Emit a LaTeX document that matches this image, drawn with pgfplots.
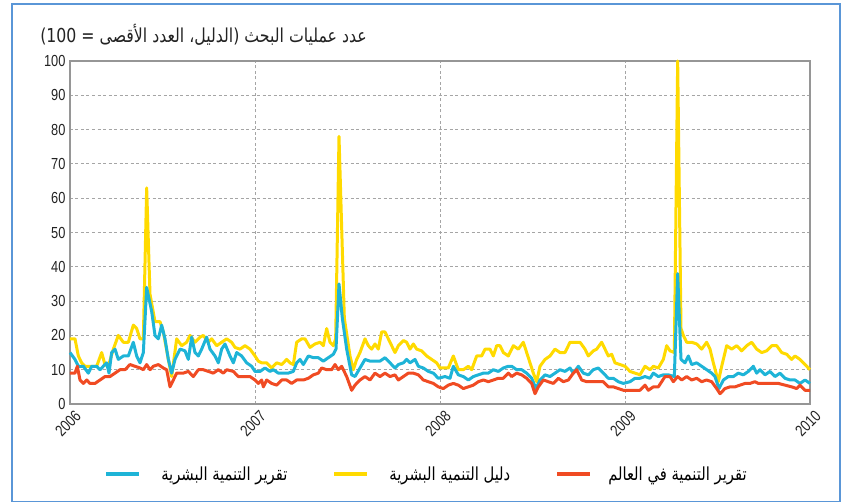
\documentclass[border=0pt]{standalone}
\usepackage{pgfplots}
\pgfplotsset{compat=1.18}
\usepackage{fontspec}
\setmainfont{Liberation Sans}[FakeStretch=0.8]
\newfontfamily\arabicfont[Script=Arabic,FakeStretch=0.82]{DejaVu Sans}
\TeXXeTstate=1
\definecolor{cyellow}{RGB}{255,218,0}
\definecolor{cblue}{RGB}{30,180,215}
\definecolor{cred}{RGB}{240,75,35}
\definecolor{frameblue}{RGB}{90,150,215}
\definecolor{gridgray}{RGB}{165,165,165}
\definecolor{axgray}{RGB}{150,150,150}
\definecolor{txt}{RGB}{35,35,35}

\pgfplotstableread{
x y
0 19
15 19
25 14
35 12
45 11
60 11
80 11
95 15
105 11.5
115 11
130 16
145 20
160 18
175 18
190 23
200 22
210 19
220 19
230 63
240 32
255 24
270 24
280 21
295 13
305 8
320 19
335 17
350 18
360 20
375 18
390 19.5
400 20
415 18
425 19
440 17
455 18
470 19
485 18
495 16.5
510 16
525 17
540 16
555 14
565 12.5
575 12
590 12
605 10.5
620 12
635 11.5
650 13
660 12
670 11.5
680 18
695 19
705 19
720 16.5
735 17.5
750 18
760 17
770 22
780 18
790 17
797 19
807 78
823 25
840 14
850 10
860 13
870 15
885 19
895 17
905 16
915 17.5
925 16
935 21
945 21
955 19
965 17
975 15
985 17
1000 18.5
1010 18
1020 16
1030 17.5
1040 16
1055 15.5
1070 14
1085 13
1100 12
1110 10.5
1120 10.5
1135 10.5
1150 14
1165 10
1180 10
1195 11
1205 10
1220 14
1235 14
1245 16
1260 16
1270 14
1280 17
1290 17
1300 15
1315 14
1330 17
1345 16
1360 18
1370 15
1380 12
1390 9
1400 6.5
1410 11
1425 13
1440 14
1455 16
1470 15
1485 15
1500 18
1515 18
1530 18
1545 16
1555 14
1570 15.5
1580 16
1595 18
1605 16
1615 14
1625 14.5
1635 12
1650 11.5
1665 11
1680 9.5
1695 9
1710 8.5
1725 11
1740 10
1750 11
1765 10.5
1780 13
1790 17
1800 15.5
1813 15
1823 100
1833 22
1840 20
1850 18
1865 18
1880 17.5
1895 16
1910 18
1920 16
1930 12
1945 6.5
1955 11
1970 17
1985 16
2000 17
2015 15.5
2030 17
2045 18
2060 16
2075 15
2090 15.5
2105 17
2120 17
2135 15
2150 14.5
2165 13
2175 14
2190 13
2205 11.5
2220 10
}\hdi

\pgfplotstableread{
x y
0 15
15 13
25 11
40 11
55 9
65 11
80 11
90 10
100 11
110 12
117 9
125 15
135 16
145 13
160 14
175 14
190 18
200 14
210 12
220 15
230 34
245 27
255 20
265 19
275 23
285 19
295 13
305 9
315 13
330 16
345 15.5
355 13
365 19.5
375 15
385 14
395 16
410 19.5
420 16
435 14
445 12
455 16
465 17.5
480 14
490 12
500 15
515 14
530 12
545 11
555 9.5
570 9.5
585 10.5
600 9.5
610 10
625 9
640 9
655 9
670 9.5
680 12
690 13
700 11.5
715 14
730 13.5
745 13.5
760 12.5
775 13.5
790 14.5
798 16
807 35
817 25
830 16
845 8.5
855 8
870 10.5
885 13
900 12.5
915 12.5
930 12.5
945 13.5
960 12
975 10.5
985 11.5
1000 12
1010 13
1020 12
1035 13
1045 11
1060 10.5
1075 9.5
1090 9
1105 7.5
1125 8
1140 7.5
1150 11
1165 8.5
1180 8
1195 7
1210 8
1225 8.5
1240 9
1255 9
1270 10
1285 9.5
1300 10.5
1315 11
1325 11
1340 10
1355 10
1370 9
1385 7.5
1398 4.5
1410 7
1425 8.5
1440 8
1455 9
1470 10
1485 9.5
1500 10.5
1510 9
1525 11
1540 9
1555 8.5
1570 10
1585 10.5
1600 9
1615 7.5
1630 7.5
1645 6.5
1660 6
1680 6.5
1695 7.5
1710 7.5
1725 8
1740 7.5
1750 9
1765 8
1780 8.5
1795 8.5
1813 8
1823 38
1833 13
1845 12
1855 14
1865 11.5
1880 12
1895 11
1910 10
1925 9
1935 8
1947 4.5
1960 7
1975 8
1990 8
2005 9
2020 8.5
2035 9.5
2050 11
2060 9
2070 10
2085 8.5
2100 9.5
2115 8
2130 9
2145 7.5
2160 7
2175 7
2190 6
2205 7
2220 6
}\hdr

\pgfplotstableread{
x y
0 9
15 9
22 11
30 7
40 6
50 7
60 6
75 6
90 7
105 8
120 8
135 9
150 10
165 10
180 11.5
195 11
210 10.5
220 10
230 11.5
240 10
250 11
265 11.5
280 10.5
290 10
300 5
310 7
320 9
340 9
355 9.5
370 8
385 10
400 10
415 9.5
430 9
445 10
460 9
470 10
490 9.5
505 8
520 8
540 8
555 7
565 6
575 7
580 5
590 7
605 6
620 5.5
635 7
650 7
665 6
680 7
700 7
715 7.5
730 8.5
745 9
755 10.5
770 10
785 10
795 11.5
805 10
815 11
830 8
845 4
855 5.5
870 7
885 8
900 7
915 9
930 8
945 9
960 8
975 8.5
985 7
1000 8
1015 9
1030 9
1045 8.5
1060 7
1075 6.5
1090 6
1105 5
1120 4.5
1135 5.5
1150 6
1165 5.5
1180 4.5
1195 5
1210 5.5
1225 6.5
1240 7
1255 6.5
1270 7
1285 7.5
1300 7.5
1315 9
1325 8
1340 9
1355 8.5
1370 7.5
1385 6
1395 3
1405 5
1420 7
1435 6.5
1450 6
1465 7.5
1480 6.5
1495 7
1510 9
1520 10
1535 7
1550 6.5
1565 6.5
1580 6.5
1600 6.5
1615 5
1630 5
1645 4.5
1660 4
1680 4
1695 4
1710 4
1725 5.5
1735 4
1750 5
1765 5
1775 6.5
1785 8
1800 8
1810 6.5
1823 8
1835 7
1850 8
1865 7
1880 7.5
1895 6.5
1910 7
1925 6.5
1940 4.5
1950 3
1965 4.5
1980 5
1995 5
2010 5.5
2025 6
2040 6
2055 6.5
2065 6
2085 6
2105 6
2125 6
2145 5.5
2165 5
2180 4.5
2190 5.5
2205 4
2220 4
}\wdr

\begin{document}
\begin{tikzpicture}
\useasboundingbox (-70pt,-97pt) rectangle (778pt,404pt);
\draw[frameblue, line width=1.6pt] (-58pt,-98pt) rectangle (770pt,400pt);
\begin{axis}[
  at={(0pt,0pt)}, anchor=south west,
  width=740pt, height=343pt, scale only axis,
  xmin=0, xmax=2220, ymin=0, ymax=100,
  clip=false,
  xtick={0,555,1110,1665,2220},
  xticklabels={2006,2007,2008,2009,2010},
  ytick={0,10,...,100},
  /pgf/number format/assume math mode=true,
  grid=major,
  major grid style={gridgray, line width=0.9pt, dash pattern=on 3pt off 2.5pt},
  axis line style={axgray, line width=1.3pt},
  major tick length=0pt,
  tick label style={font=\fontsize{16}{18}\selectfont, text=txt},
  yticklabel style={xshift=-1pt},
  xticklabel style={anchor=center, yshift=-20pt, xshift=-2pt, rotate=45},
  legend image code/.code={\draw[#1, line cap=butt] (0pt,0pt) -- (33pt,0pt);},
  legend style={at={(0.481,-0.204)}, anchor=center, draw=none, fill=none,
    legend columns=3, font=\arabicfont\fontsize{18}{20}\selectfont,
    /tikz/every even column/.append style={column sep=44pt},
    nodes={inner sep=1pt}},
  legend cell align=left,
]
\addlegendimage{cblue, line width=4pt}
\addlegendentry{\hspace{19pt}\beginR تقرير التنمية البشرية\endR}
\addlegendimage{cyellow, line width=4pt}
\addlegendentry{\hspace{19pt}\beginR دليل التنمية البشرية\endR}
\addlegendimage{cred, line width=4pt}
\addlegendentry{\hspace{15pt}\beginR تقرير التنمية في العالم\endR}
\addplot[forget plot, cyellow, line width=3pt, line join=round] table[x=x,y=y] {\hdi};
\addplot[forget plot, cblue, line width=3pt, line join=round] table[x=x,y=y] {\hdr};
\addplot[forget plot, cred, line width=3pt, line join=round] table[x=x,y=y] {\wdr};
\end{axis}
\node[anchor=east, text=txt, inner sep=0pt] at (297pt,369pt)
  {\arabicfont\fontsize{19.2}{21}\selectfont\beginR عدد عمليات البحث (الدليل، العدد الأقصى = \beginL 100\endL)\endR};
\end{tikzpicture}
\end{document}
